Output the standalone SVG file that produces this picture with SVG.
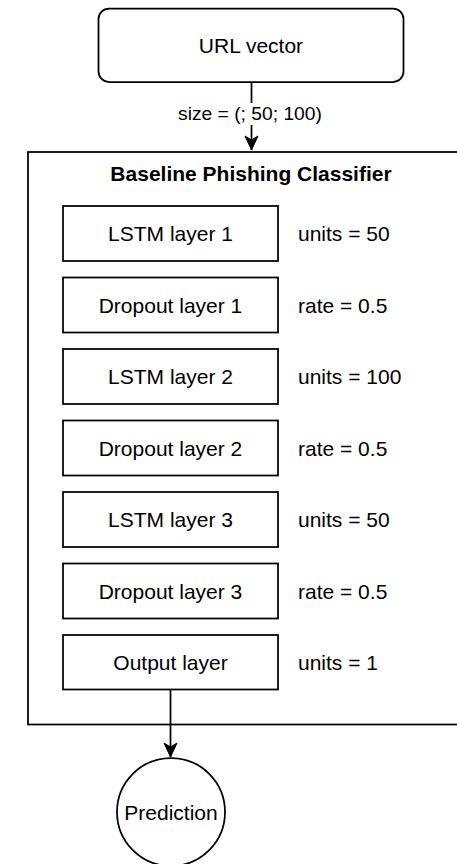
<svg xmlns="http://www.w3.org/2000/svg" width="457" height="864" viewBox="0 0 457 864">
  <style>
    .box { fill: #ffffff; stroke: #000000; stroke-width: 1.75; }
    .edge { fill: none; stroke: #000000; stroke-width: 1.75; }
    .lbl { font-family: "Liberation Sans", Arial, Helvetica, sans-serif; font-size: 21px; fill: #000000; }
    .mid { text-anchor: middle; }
    .title { font-weight: bold; }
    .edge-lbl { font-family: "Liberation Sans", Arial, Helvetica, sans-serif; font-size: 19.25px; fill: #000000; text-anchor: middle; }
  </style>
  <defs>
    <marker id="arrow" markerUnits="userSpaceOnUse" markerWidth="16" markerHeight="16" viewBox="-15 -8 16 16" refX="0" refY="0" orient="auto">
      <path d="M0,0 L-14,-6.5 L-10,0 L-14,6.5 Z" fill="#000000" stroke="#000000" stroke-width="1"/>
    </marker>
  </defs>

  <rect width="457" height="864" fill="#ffffff"/>

  <!-- container -->
  <g id="classifier">
    <rect class="box" x="28" y="152" width="446" height="572.5"/>
    <text class="lbl mid title" x="251" y="181">Baseline Phishing Classifier</text>
  </g>

  <!-- input -->
  <g id="url-vector">
    <rect class="box" x="98.5" y="8.5" width="305" height="73.5" rx="10.5" ry="10.5"/>
    <text class="lbl mid" x="251" y="53">URL vector</text>
  </g>

  <!-- layers -->
  <g id="lstm1">
    <rect class="box" x="63" y="206" width="215" height="55"/>
    <text class="lbl mid" x="170.5" y="241">LSTM layer 1</text>
    <text class="lbl" x="298" y="241">units = 50</text>
  </g>
  <g id="dropout1">
    <rect class="box" x="63" y="277.5" width="215" height="55"/>
    <text class="lbl mid" x="170.5" y="312.5">Dropout layer 1</text>
    <text class="lbl" x="298" y="312.5">rate = 0.5</text>
  </g>
  <g id="lstm2">
    <rect class="box" x="63" y="349" width="215" height="55"/>
    <text class="lbl mid" x="170.5" y="384">LSTM layer 2</text>
    <text class="lbl" x="298" y="384">units = 100</text>
  </g>
  <g id="dropout2">
    <rect class="box" x="63" y="420.5" width="215" height="55"/>
    <text class="lbl mid" x="170.5" y="455.5">Dropout layer 2</text>
    <text class="lbl" x="298" y="455.5">rate = 0.5</text>
  </g>
  <g id="lstm3">
    <rect class="box" x="63" y="492" width="215" height="55"/>
    <text class="lbl mid" x="170.5" y="527">LSTM layer 3</text>
    <text class="lbl" x="298" y="527">units = 50</text>
  </g>
  <g id="dropout3">
    <rect class="box" x="63" y="563.5" width="215" height="55"/>
    <text class="lbl mid" x="170.5" y="598.5">Dropout layer 3</text>
    <text class="lbl" x="298" y="598.5">rate = 0.5</text>
  </g>
  <g id="output">
    <rect class="box" x="63" y="635" width="215" height="54.5"/>
    <text class="lbl mid" x="170.5" y="670">Output layer</text>
    <text class="lbl" x="298" y="670">units = 1</text>
  </g>

  <!-- result -->
  <g id="prediction">
    <circle class="box" cx="171" cy="812" r="54"/>
    <text class="lbl mid" x="171" y="820">Prediction</text>
  </g>

  <!-- connectors -->
  <g id="connectors">
    <path class="edge" d="M251.5,82 L251.5,150" marker-end="url(#arrow)"/>
    <rect x="176" y="103" width="150" height="22" fill="#ffffff"/>
    <text class="edge-lbl" x="250" y="120">size = (; 50; 100)</text>
    <path class="edge" d="M170.5,689.5 L170.5,757" marker-end="url(#arrow)"/>
  </g>
</svg>
